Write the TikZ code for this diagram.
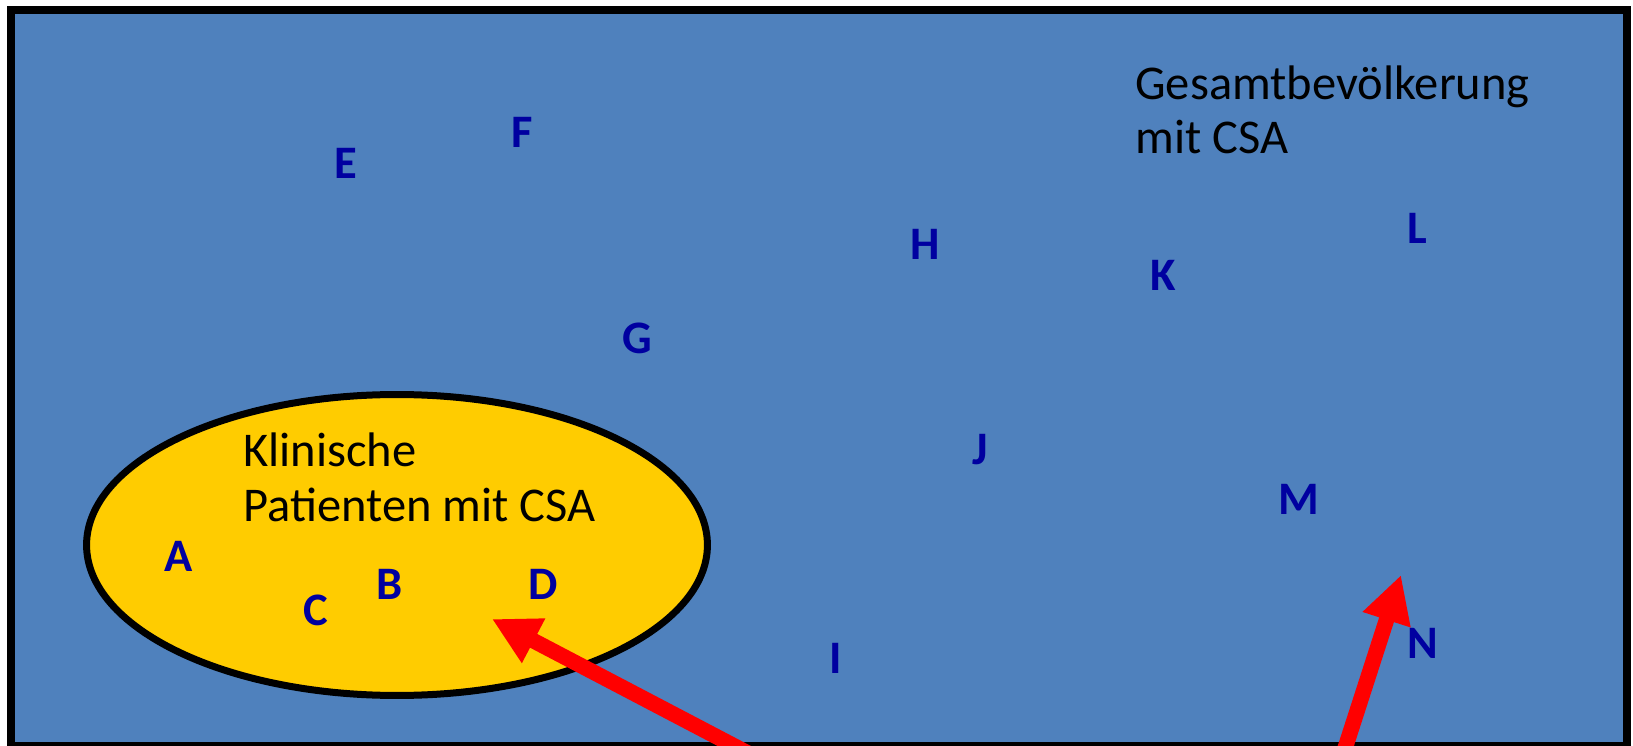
\documentclass[tikz,border=0pt]{standalone}
\usepackage{fontspec}
\setmainfont{Carlito}
\definecolor{bgblue}{RGB}{79, 129, 189}
\definecolor{ellyellow}{RGB}{255, 204, 0}
\definecolor{letterblue}{RGB}{0, 0, 160}
\definecolor{arrowred}{RGB}{255, 0, 0}
\usetikzlibrary{shapes.geometric, arrows.meta}

\begin{document}
\begin{tikzpicture}[x=0.02cm, y=-0.02cm,
  letter/.style={font=\fontsize{26.5pt}{31pt}\selectfont\bfseries, text=letterblue, inner sep=0pt},
  caption/.style={font=\fontsize{27.6pt}{31.3pt}\selectfont, align=left, inner sep=0pt, anchor=base west},
  pointer/.style={-{Triangle[length=0.94cm, width=0.94cm]}, line width=0.31cm, draw=arrowred, fill=arrowred}]
  \useasboundingbox (0,0) rectangle (1633,746);

  % Population
  \draw[fill=bgblue, line width=0.16cm] (11,10) rectangle (1627,746);
  \node[caption] (gesamt) at (1135,154) {Gesamtbevölkerung\\mit CSA};

  % Clinical patients
  \node[draw, ellipse, fill=ellyellow, line width=0.14cm, minimum width=12.42cm, minimum height=6.02cm] (klinik) at (397,545) {};
  \node[caption] (klinisch) at (243,521) {Klinische\\Patienten mit CSA};

  % Letters
  \node[letter] (a) at (179,556) {A};
  \node[letter] (b) at (390,584) {B};
  \node[letter] (c) at (316,610) {C};
  \node[letter] (d) at (543,584) {D};
  \node[letter] (e) at (346,163) {E};
  \node[letter] (f) at (522,132) {F};
  \node[letter] (g) at (637,338) {G};
  \node[letter] (h) at (925,244) {H};
  \node[letter] (i) at (836,658) {I};
  \node[letter] (j) at (980,450) {J};
  \node[letter] (k) at (1163,275) {K};
  \node[letter] (l) at (1417,228) {L};
  \node[letter] (m) at (1299,499) {M};
  \node[letter] (n) at (1423,643) {N};

  % Arrows
  \coordinate (tipD) at (492,619);
  \coordinate (tailD) at (782,771);
  \coordinate (tipN) at (1401,575);
  \coordinate (tailN) at (1339,767);
  \draw[pointer] (tailD) -- (tipD);
  \draw[pointer] (tailN) -- (tipN);
\end{tikzpicture}
\end{document}
